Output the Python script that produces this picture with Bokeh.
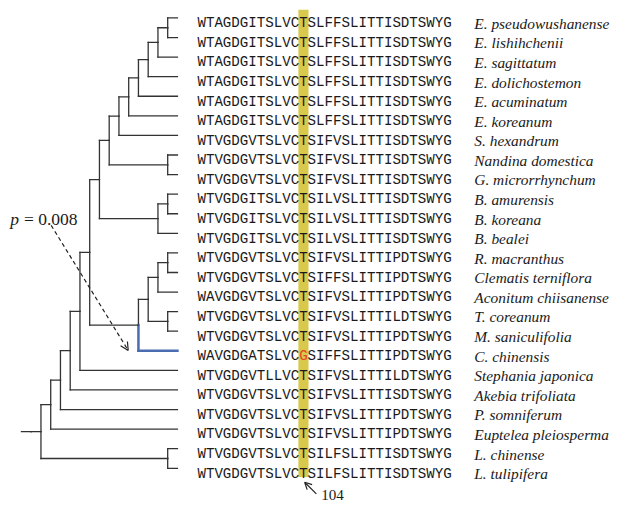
import numpy as np
from bokeh.plotting import figure
from bokeh.models import Range1d, Arrow, OpenHead
from bokeh.core.properties import value
from bokeh.embed import file_html
from bokeh.resources import INLINE

# ---------------- data ----------------
taxa = [
    "E. pseudowushanense", "E. lishihchenii", "E. sagittatum", "E. dolichostemon",
    "E. acuminatum", "E. koreanum", "S. hexandrum", "Nandina domestica",
    "G. microrrhynchum", "B. amurensis", "B. koreana", "B. bealei",
    "R. macranthus", "Clematis terniflora", "Aconitum chiisanense", "T. coreanum",
    "M. saniculifolia", "C. chinensis", "Stephania japonica", "Akebia trifoliata",
    "P. somniferum", "Euptelea pleiosperma", "L. chinense", "L. tulipifera",
]
sequences = [
    "WTAGDGITSLVCTSLFFSLITTISDTSWYG",
    "WTAGDGITSLVCTSLFFSLITTISDTSWYG",
    "WTAGDGITSLVCTSLFFSLITTISDTSWYG",
    "WTAGDGITSLVCTSLFFSLITTISDTSWYG",
    "WTAGDGITSLVCTSLFFSLITTISDTSWYG",
    "WTAGDGITSLVCTSLFFSLITTISDTSWYG",
    "WTVGDGVTSLVCTSIFVSLITTISDTSWYG",
    "WTVGDGVTSLVCTSIFVSLITTISDTSWYG",
    "WTVGDGVTSLVCTSIFVSLITTISDTSWYG",
    "WTVGDGITSLVCTSILVSLITTISDTSWYG",
    "WTVGDGITSLVCTSILVSLITTISDTSWYG",
    "WTVGDGITSLVCTSILVSLITTISDTSWYG",
    "WTVGDGVTSLVCTSIFVSLITTIPDTSWYG",
    "WTVGDGVTSLVCTSIFFSLITTIPDTSWYG",
    "WAVGDGVTSLVCTSIFVSLITTIPDTSWYG",
    "WTVGDGVTSLVCTSIFVSLITTILDTSWYG",
    "WTVGDGVTSLVCTSIFVSLITTIPDTSWYG",
    "WAVGDGATSLVCGSIFFSLITTIPDTSWYG",
    "WTVGDGVTLLVCTSIFVSLITTILDTSWYG",
    "WTVGDGVTSLVCTSIFVSLITTISDTSWYG",
    "WTVGDGVTSLVCTSIFVSLITTIPDTSWYG",
    "WTVGDGVTSLVCTSIFVSLITTIPDTSWYG",
    "WTVGDGVTSLVCTSILFSLITTISDTSWYG",
    "WTVGDGVTSLVCTSILFSLITTISDTSWYG",
]
# tree topology (leaf numbers = row index in taxa)
newick = "(((((((((((((((0,1),2),3),4),5),6),(7,8)),((9,10),11)),((((12,13),14),(15,16)),17)),18),19),20),21),(22,23));"
site_label = "104"
site_index = 12          # position of site 104 in the shown fragment
consensus = "T"
selected_taxon = "C. chinensis"
p_text = "= 0.008"

# ---------------- layout ----------------
REF_W, REF_H = 637, 521
W, H = 621, 505
S = W / REF_W                      # font scale so the whole picture fits
ROW0, ROWSTEP = 18.0, 20.2
TIP_X, LEVEL_W = 181.5, 10.0
SEQ_X, CHAR_W = 202.0, 8.7
LABEL_X = 486.0
TREE_COL, BLUE = "#333333", "#4a6cb0"
TXT = "#1a1a1a"

def px(v):
    return "%.2fpx" % (v * S)

def parse(s):
    pos = 0
    def node():
        nonlocal pos
        if s[pos] == "(":
            pos += 1
            kids = [node()]
            while s[pos] == ",":
                pos += 1
                kids.append(node())
            pos += 1  # ')'
            return kids
        j = pos
        while s[j].isdigit():
            j += 1
        leaf = int(s[pos:j])
        pos = j
        return leaf
    return node()

tree = parse(newick)
sel = taxa.index(selected_taxon)

def row_y(i):
    return ROW0 + i * ROWSTEP

segs = dict(x0=[], y0=[], x1=[], y1=[], c=[], w=[])

def add(x0, y0, x1, y1, blue=False):
    segs["x0"].append(x0); segs["y0"].append(y0)
    segs["x1"].append(x1); segs["y1"].append(y1)
    segs["c"].append(BLUE if blue else TREE_COL)
    segs["w"].append(2.5 if blue else 1.3)

def layout(n):
    """returns (x, y, height) of a node"""
    if isinstance(n, int):
        return TIP_X, row_y(n), 0
    kids = [layout(k) for k in n]
    h = 1 + max(k[2] for k in kids)
    x = TIP_X - h * LEVEL_W
    y = (kids[0][1] + kids[-1][1]) / 2.0
    for k, (kx, ky, kh) in zip(n, kids):
        blue = isinstance(k, int) and k == sel
        add(x, y, x, ky, blue)
        add(x, ky, kx, ky, blue)
    return x, y, h

rx, ry, rh = layout(tree)
add(rx - LEVEL_W, ry, rx, ry)

p = figure(width=W, height=H, output_backend="svg", toolbar_location=None,
           x_range=Range1d(0, REF_W), y_range=Range1d(REF_H, 0),
           min_border=0, outline_line_color=None)
p.axis.visible = False
p.grid.visible = False
p.background_fill_color = "white"
p.border_fill_color = "white"

# highlight column
hx = SEQ_X + site_index * CHAR_W + CHAR_W / 2
p.quad(left=hx - 5.2, right=hx + 5.2, top=row_y(0) - 8.5, bottom=row_y(len(taxa) - 1) + 9,
       fill_color="#d8c94c", line_color=None)

# tree
p.segment(x0="x0", y0="y0", x1="x1", y1="y1", line_color="c", line_width="w",
          source=segs, line_cap="square")

# sequences (site column drawn separately so it can be coloured)
ys = [row_y(i) + 5.5 for i in range(len(taxa))]
rest = [s[:site_index] + " " + s[site_index + 1:] for s in sequences]
p.text(x=[SEQ_X] * len(taxa), y=ys, text=rest, text_font=value("Liberation Mono"),
       text_font_size=px(14.5), text_color=TXT, text_baseline="alphabetic")
site_chars = [s[site_index] for s in sequences]
site_cols = [TXT if c == consensus else "#e8421e" for c in site_chars]
p.text(x=[SEQ_X + site_index * CHAR_W] * len(taxa), y=ys, text=site_chars,
       text_font=value("Liberation Mono"), text_font_size=px(14.5),
       text_color=site_cols, text_baseline="alphabetic")

# species labels
p.text(x=[LABEL_X] * len(taxa), y=ys, text=taxa, text_font=value("Liberation Serif"),
       text_font_style="italic", text_font_size=px(15.8), text_color=TXT,
       text_baseline="alphabetic")

# p-value annotation
p.text(x=[10], y=[225], text=["p"], text_font=value("Liberation Serif"),
       text_font_style="italic", text_font_size=px(18), text_color=TXT,
       text_baseline="alphabetic")
p.text(x=[24], y=[225], text=[p_text], text_font=value("Liberation Serif"),
       text_font_size=px(18), text_color=TXT, text_baseline="alphabetic")
p.add_layout(Arrow(x_start=52, y_start=232, x_end=131, y_end=361,
                   line_color="#222222", line_width=1.2, line_dash="4 3",
                   end=OpenHead(size=8, line_color="#222222", line_width=1.2)))

# site arrow
p.add_layout(Arrow(x_start=324, y_start=509, x_end=312, y_end=497,
                   line_color="#222222", line_width=1.2,
                   end=OpenHead(size=7, line_color="#222222", line_width=1.2)))
p.text(x=[329], y=[510], text=[site_label], text_font=value("Liberation Serif"),
       text_font_size=px(15.5), text_color=TXT, text_baseline="alphabetic")

open("out.html", "w").write(file_html(p, INLINE))
